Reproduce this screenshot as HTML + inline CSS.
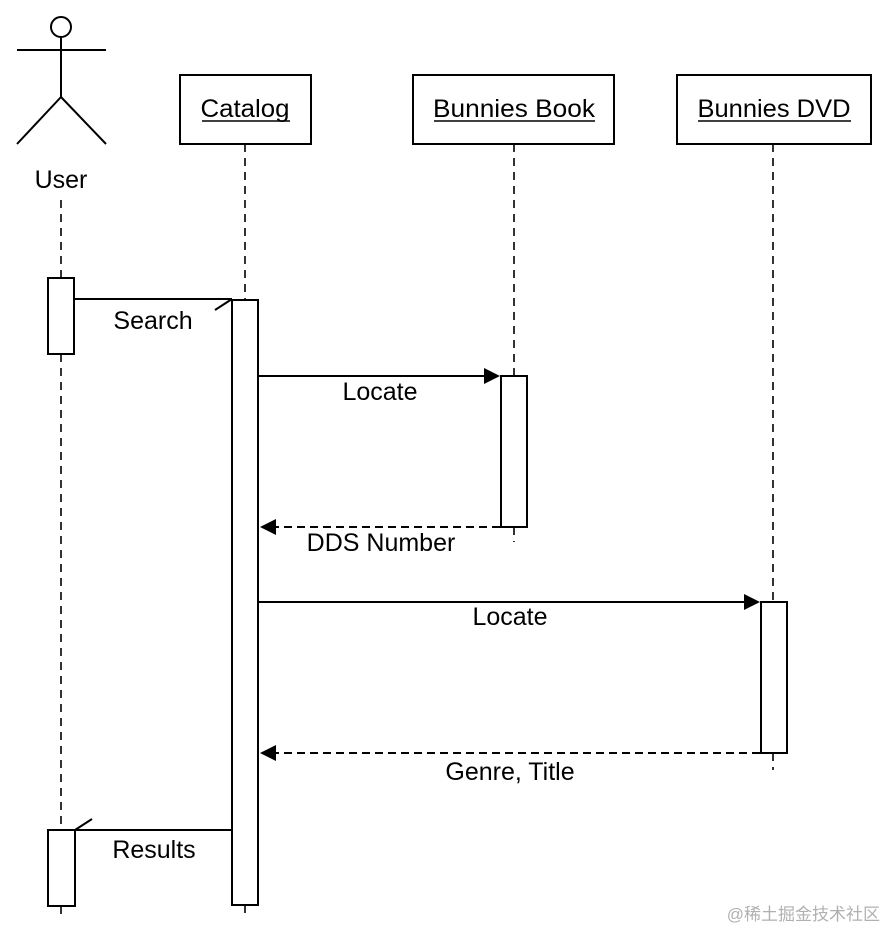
<!DOCTYPE html>
<html><head><meta charset="utf-8"><style>
html,body{margin:0;padding:0;background:#fff;}
svg{display:block;}
text{font-family:"Liberation Sans",sans-serif;font-size:25px;fill:#000;}
</style></head><body>
<svg width="885" height="929" viewBox="0 0 885 929" xmlns="http://www.w3.org/2000/svg">
<g stroke="#000" stroke-width="2" fill="none">
<circle cx="61" cy="27" r="10"/>
<line x1="17" y1="50" x2="106" y2="50"/>
<line x1="61" y1="37" x2="61" y2="97"/>
<line x1="61" y1="97" x2="17" y2="144"/>
<line x1="61" y1="97" x2="106" y2="144"/>
<rect x="180" y="75" width="131" height="69"/>
<rect x="413" y="75" width="201" height="69"/>
<rect x="677" y="75" width="194" height="69"/>
<g stroke-dasharray="8,6" stroke-width="1.6">
<line x1="61" y1="200" x2="61" y2="278"/>
<line x1="61" y1="354" x2="61" y2="830"/>
<line x1="61" y1="906" x2="61" y2="918"/>
<line x1="245" y1="144" x2="245" y2="300"/>
<line x1="245" y1="905" x2="245" y2="918"/>
<line x1="514" y1="144" x2="514" y2="376"/>
<line x1="514" y1="527" x2="514" y2="542"/>
<line x1="773" y1="144" x2="773" y2="602"/>
<line x1="773" y1="753" x2="773" y2="770"/>
</g>
<rect x="48" y="278" width="26" height="76" fill="#fff"/>
<rect x="48" y="830" width="27" height="76" fill="#fff"/>
<rect x="232" y="300" width="26" height="605" fill="#fff"/>
<rect x="501" y="376" width="26" height="151" fill="#fff"/>
<rect x="761" y="602" width="26" height="151" fill="#fff"/>
<line x1="74" y1="299" x2="232" y2="299"/>
<line x1="232" y1="299" x2="215" y2="310"/>
<line x1="258" y1="376" x2="490" y2="376"/>
<line x1="500" y1="527" x2="270" y2="527" stroke-dasharray="8,5"/>
<line x1="258" y1="602" x2="750" y2="602"/>
<line x1="760" y1="753" x2="270" y2="753" stroke-dasharray="8,5"/>
<line x1="232" y1="830" x2="75" y2="830"/>
<line x1="75" y1="830" x2="92" y2="819"/>
</g>
<g fill="#000">
<polygon points="500,376 484,368 484,384"/>
<polygon points="260,527 276,519 276,535"/>
<polygon points="760,602 744,594 744,610"/>
<polygon points="260,753 276,745 276,761"/>
</g>
<text x="61" y="188" text-anchor="middle">User</text>
<text x="245" y="117" text-anchor="middle" textLength="89" lengthAdjust="spacingAndGlyphs">Catalog</text>
<text x="514" y="117" text-anchor="middle" textLength="162" lengthAdjust="spacingAndGlyphs">Bunnies Book</text>
<text x="774" y="117" text-anchor="middle" textLength="153" lengthAdjust="spacingAndGlyphs">Bunnies DVD</text>
<g stroke="#000" stroke-width="1.5">
<line x1="202" y1="121" x2="290" y2="121"/>
<line x1="434" y1="121" x2="595" y2="121"/>
<line x1="698" y1="121" x2="851" y2="121"/>
</g>
<text x="153" y="329" text-anchor="middle">Search</text>
<text x="380" y="400" text-anchor="middle">Locate</text>
<text x="381" y="551" text-anchor="middle">DDS Number</text>
<text x="510" y="625" text-anchor="middle">Locate</text>
<text x="510" y="780" text-anchor="middle">Genre, Title</text>
<text x="154" y="858" text-anchor="middle">Results</text>
<text x="880" y="920" text-anchor="end" style="font-family:'Liberation Sans','Noto Sans CJK SC',sans-serif;font-size:17px;fill:#b0b0b0;">@稀土掘金技术社区</text>
</svg>
</body></html>
